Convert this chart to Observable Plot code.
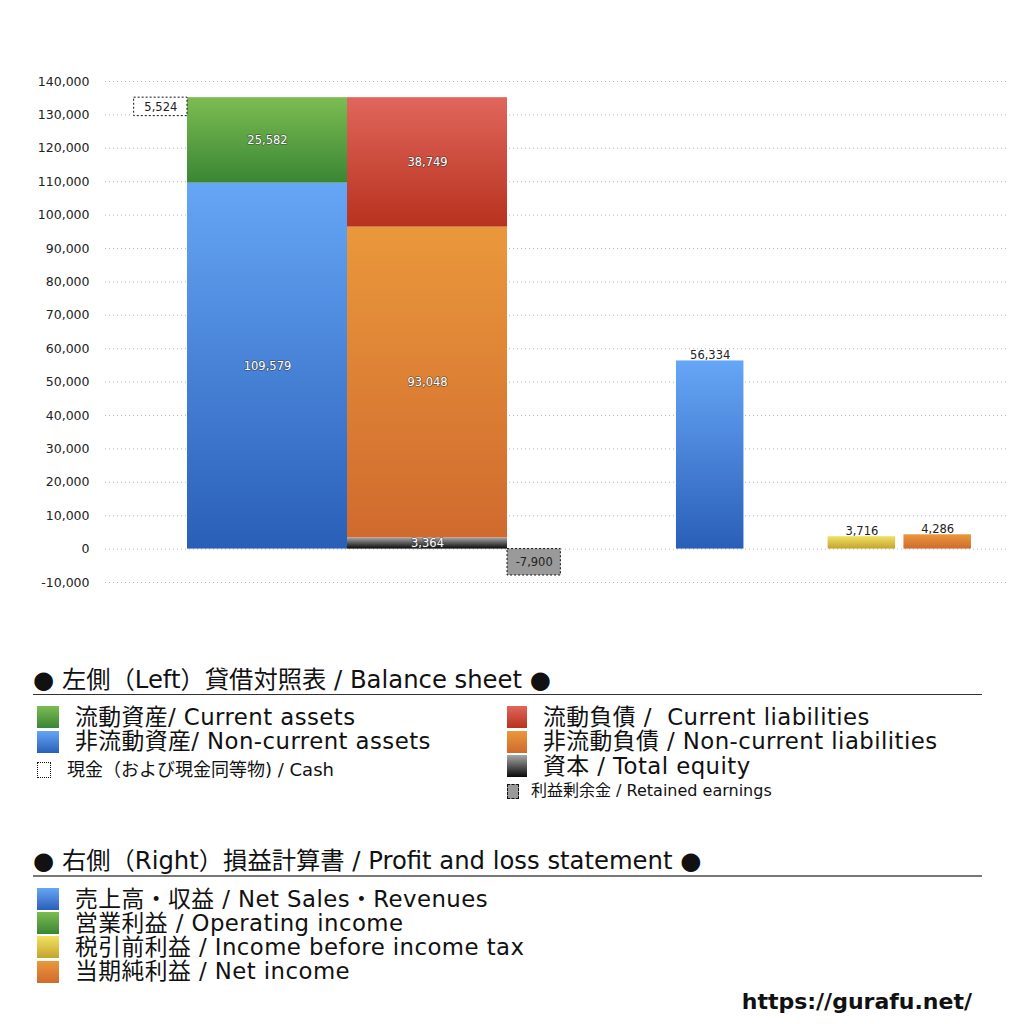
<!DOCTYPE html>
<html>
<head>
<meta charset="utf-8">
<script src="https://cdn.jsdelivr.net/npm/d3@7"></script>
<script src="https://cdn.jsdelivr.net/npm/@observablehq/plot@0.6"></script>
<style>
  html, body { margin: 0; padding: 0; background: #fff; }
  body { width: 1024px; height: 1024px; position: relative; overflow: hidden;
         font-family: "DejaVu Sans", "Noto Sans CJK JP", sans-serif; color: #111; }
  #chart { position: absolute; left: 0; top: 0; }
  .abs { position: absolute; white-space: pre; line-height: 1; }
  .hdr { font-size: 24.3px; }
  .item { font-size: 22.8px; letter-spacing: 0.45px; }
  .sq { position: absolute; width: 22px; height: 22px; }
  .rule { position: absolute; left: 33px; width: 949px; height: 0; }
</style>
</head>
<body>
<svg width="0" height="0" style="position:absolute">
  <defs>
    <linearGradient id="g-green" x1="0" y1="0" x2="0" y2="1"><stop offset="0" stop-color="#7cbd52"/><stop offset="1" stop-color="#3a8634"/></linearGradient>
    <linearGradient id="g-blue" x1="0" y1="0" x2="0" y2="1"><stop offset="0" stop-color="#66a6f6"/><stop offset="1" stop-color="#2a5fb8"/></linearGradient>
    <linearGradient id="g-red" x1="0" y1="0" x2="0" y2="1"><stop offset="0" stop-color="#e0665c"/><stop offset="1" stop-color="#b8321e"/></linearGradient>
    <linearGradient id="g-orange" x1="0" y1="0" x2="0" y2="1"><stop offset="0" stop-color="#ea983c"/><stop offset="1" stop-color="#d06a2e"/></linearGradient>
    <linearGradient id="g-black" x1="0" y1="0" x2="0" y2="1"><stop offset="0" stop-color="#a8a8a8"/><stop offset="1" stop-color="#0a0a0a"/></linearGradient>
    <linearGradient id="g-yellow" x1="0" y1="0" x2="0" y2="1"><stop offset="0" stop-color="#f2e262"/><stop offset="1" stop-color="#c4a42e"/></linearGradient>
  </defs>
</svg>
<div id="chart"></div>
<div id="legend"></div>
<script>
// ---------- data ----------
const yTicks = [-10000, 0, 10000, 20000, 30000, 40000, 50000, 60000, 70000, 80000, 90000, 100000, 110000, 120000, 130000, 140000];

const bsColumns = ["資産", "負債・純資産"];
const assetLabels = ["非流動資産", "流動資産"];
const assetValues = [109579, 25582];
const assetFills = ["url(#g-blue)", "url(#g-green)"];

const liabLabels = ["資本", "非流動負債", "流動負債"];
const liabValues = [3364, 93048, 38749];
const liabFills = ["url(#g-black)", "url(#g-orange)", "url(#g-red)"];

const cashValue = 5524;
const retainedValue = -7900;

const plLabels = ["売上高・収益", "営業利益", "税引前利益", "当期純利益"];
const plValues = [56334, null, 3716, 4286];
const plFills = ["url(#g-blue)", "url(#g-green)", "url(#g-yellow)", "url(#g-orange)"];

// ---------- layout (x positions come from band scales in a unit domain) ----------
const bsBand = d3.scaleBand().domain(bsColumns).range([0.0909, 0.4457]).paddingInner(0);
const sideW = bsBand.bandwidth() / 3;
const plBand = d3.scaleBand().domain(plLabels).range([0.633, 0.960]).paddingInner(0.11);

function stack(labels, values, fills, col) {
  let acc = 0;
  return labels.map((l, i) => {
    const y1 = acc, y2 = acc + values[i]; acc = y2;
    return {label: l, value: values[i], y1, y2, fill: fills[i],
            x1: bsBand(col), x2: bsBand(col) + bsBand.bandwidth()};
  });
}
const assetRows = stack(assetLabels, assetValues, assetFills, bsColumns[0]);
const liabRows = stack(liabLabels, liabValues, liabFills, bsColumns[1]);
const bsRows = [...assetRows, ...liabRows];
const assetTotal = d3.sum(assetValues);

const cashRow = [{label: "現金", value: cashValue, y1: assetTotal - cashValue, y2: assetTotal,
  x1: bsBand(bsColumns[0]) - sideW, x2: bsBand(bsColumns[0])}];
const retainedRow = [{label: "利益剰余金", value: retainedValue, y1: 0, y2: retainedValue,
  x1: bsBand(bsColumns[1]) + bsBand.bandwidth(), x2: bsBand(bsColumns[1]) + bsBand.bandwidth() + sideW}];

const plRows = plLabels.map((l, i) => ({label: l, value: plValues[i], fill: plFills[i],
  x1: plBand(l), x2: plBand(l) + plBand.bandwidth()})).filter(d => d.value != null);

const fmt = v => v.toLocaleString("en-US");

const chart = Plot.plot({
  width: 1024,
  height: 620,
  marginTop: 81,
  marginBottom: 38,
  marginLeft: 105,
  marginRight: 17,
  style: {fontFamily: "'DejaVu Sans', 'Noto Sans CJK JP', sans-serif", background: "transparent"},
  x: {domain: [0, 1], axis: null},
  y: {domain: [-10000, 140000]},
  color: {type: "identity"},
  marks: [
    Plot.gridY(yTicks, {stroke: "#b8b8b8", strokeOpacity: 1, strokeDasharray: "1,3"}),
    Plot.axisY(yTicks, {tickSize: 0, tickPadding: 16, fontSize: 12.5, fill: "#222", tickFormat: fmt, label: null}),
    Plot.rect(bsRows, {x1: "x1", x2: "x2", y1: "y1", y2: "y2", fill: "fill"}),
    Plot.rect(plRows, {x1: "x1", x2: "x2", y1: 0, y2: "value", fill: "fill"}),
    Plot.rect(cashRow, {x1: "x1", x2: "x2", y1: "y1", y2: "y2", fill: "white", stroke: "#111", strokeDasharray: "2,2", strokeWidth: 1}),
    Plot.rect(retainedRow, {x1: "x1", x2: "x2", y1: "y1", y2: "y2", fill: "#9a9a9a", stroke: "#111", strokeDasharray: "2,2", strokeWidth: 1}),
    Plot.text(bsRows, {x: d => (d.x1 + d.x2) / 2, y: d => (d.y1 + d.y2) / 2, text: d => fmt(d.value),
      fill: "white", stroke: "#333", strokeOpacity: 0.55, strokeWidth: 1.6, fontSize: 11.5}),
    Plot.text([...cashRow, ...retainedRow], {x: d => (d.x1 + d.x2) / 2, y: d => (d.y1 + d.y2) / 2, text: d => fmt(d.value),
      fill: "#222", fontSize: 11.5}),
    Plot.text(plRows, {x: d => (d.x1 + d.x2) / 2, y: "value", text: d => fmt(d.value),
      fill: "#222", fontSize: 11.5, lineAnchor: "bottom", dy: -2})
  ]
});
document.getElementById("chart").appendChild(chart);

// ---------- legend (HTML) ----------
const legend = document.getElementById("legend");
function add(html) { legend.insertAdjacentHTML("beforeend", html); }
const gradCss = {
  "g-green": "linear-gradient(#7cbd52,#3a8634)",
  "g-blue": "linear-gradient(#66a6f6,#2a5fb8)",
  "g-red": "linear-gradient(#e0665c,#b8321e)",
  "g-orange": "linear-gradient(#ea983c,#d06a2e)",
  "g-black": "linear-gradient(#a8a8a8,#0a0a0a)",
  "g-yellow": "linear-gradient(#f2e262,#c4a42e)"
};

const bsHeader = "● 左側（Left）貸借対照表 / Balance sheet ●";
const bsLeftItems = [["流動資産/ Current assets", "g-green"], ["非流動資産/ Non-current assets", "g-blue"]];
const bsRightItems = [["流動負債 /  Current liabilities", "g-red"], ["非流動負債 / Non-current liabilities", "g-orange"], ["資本 / Total equity", "g-black"]];
const cashText = "現金（および現金同等物) / Cash";
const retainedText = "利益剰余金 / Retained earnings";
const plHeader = "● 右側（Right）損益計算書 / Profit and loss statement ●";
const plItems = [["売上高・収益 / Net Sales・Revenues", "g-blue"], ["営業利益 / Operating income", "g-green"], ["税引前利益 / Income before income tax", "g-yellow"], ["当期純利益 / Net income", "g-orange"]];

add(`<div class="abs hdr" style="left:33px;top:668px">${bsHeader}</div>`);
add(`<div class="rule" style="top:694px;border-top:1px solid #333"></div>`);
bsLeftItems.forEach(([t, g], i) => {
  const cy = 717 + i * 24.5;
  add(`<div class="sq" style="left:37px;top:${cy - 11}px;background:${gradCss[g]}"></div>`);
  add(`<div class="abs item" style="left:75px;top:${cy - 11.4}px">${t}</div>`);
});
add(`<div class="abs" style="left:37px;top:762px;width:12px;height:14px;border:1px dotted #111"></div>`);
add(`<div class="abs" style="left:67px;top:761px;font-size:18px">${cashText}</div>`);
bsRightItems.forEach(([t, g], i) => {
  const cy = 717 + i * 24.5;
  add(`<div class="sq" style="left:507px;top:${cy - 11}px;width:20px;background:${gradCss[g]}"></div>`);
  add(`<div class="abs item" style="left:543px;top:${cy - 11.4}px">${t}</div>`);
});
add(`<div class="abs" style="left:507px;top:784px;width:10px;height:13px;border:1px dashed #111;background:#9a9a9a"></div>`);
add(`<div class="abs" style="left:531px;top:783px;font-size:16px">${retainedText}</div>`);

add(`<div class="abs hdr" style="left:33px;top:849px">${plHeader}</div>`);
add(`<div class="rule" style="top:875px;border-top:2px solid #777"></div>`);
plItems.forEach(([t, g], i) => {
  const cy = 899 + i * 24.2;
  add(`<div class="sq" style="left:37px;top:${cy - 11}px;background:${gradCss[g]}"></div>`);
  add(`<div class="abs item" style="left:75px;top:${cy - 11.4}px">${t}</div>`);
});
add(`<div class="abs" style="right:52px;top:991px;font-size:22px;font-weight:bold">https://gurafu.net/</div>`);
</script>
</body>
</html>
